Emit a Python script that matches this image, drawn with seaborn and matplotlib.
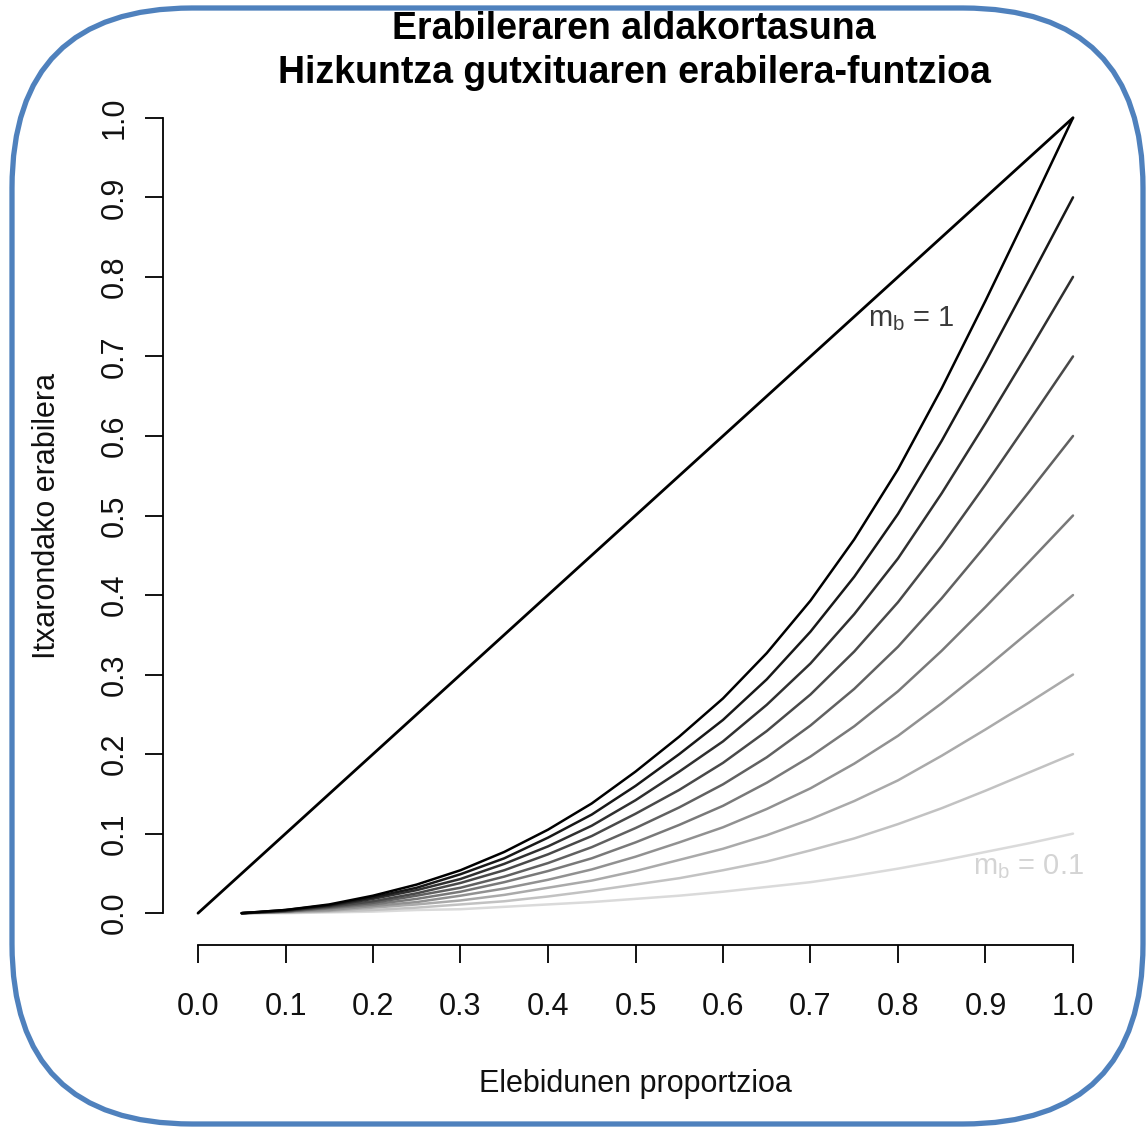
import matplotlib
matplotlib.use("Agg")
import matplotlib.pyplot as plt
from matplotlib.patches import FancyBboxPatch
import seaborn as sns
import pandas as pd

# ---------------- data ----------------
x_grid = [0.05, 0.10, 0.15, 0.20, 0.25, 0.30, 0.35, 0.40, 0.45, 0.50,
          0.55, 0.60, 0.65, 0.70, 0.75, 0.80, 0.85, 0.90, 0.95, 1.00]

mb_levels = [1.0, 0.9, 0.8, 0.7, 0.6, 0.5, 0.4, 0.3, 0.2, 0.1]

curve_10 = [0.000, 0.004, 0.011, 0.022, 0.036, 0.054, 0.077, 0.105, 0.138, 0.178,
            0.222, 0.270, 0.327, 0.393, 0.470, 0.558, 0.660, 0.770, 0.884, 1.000]
curve_09 = [0.000, 0.004, 0.010, 0.020, 0.032, 0.049, 0.069, 0.095, 0.124, 0.160,
            0.200, 0.243, 0.294, 0.354, 0.423, 0.502, 0.594, 0.693, 0.796, 0.900]
curve_08 = [0.000, 0.003, 0.009, 0.018, 0.029, 0.043, 0.062, 0.084, 0.110, 0.142,
            0.178, 0.216, 0.262, 0.314, 0.376, 0.446, 0.528, 0.616, 0.707, 0.800]
curve_07 = [0.000, 0.003, 0.008, 0.015, 0.025, 0.038, 0.054, 0.074, 0.097, 0.125,
            0.155, 0.189, 0.229, 0.275, 0.329, 0.391, 0.462, 0.539, 0.619, 0.700]
curve_06 = [0.000, 0.002, 0.007, 0.013, 0.022, 0.032, 0.046, 0.063, 0.083, 0.107,
            0.133, 0.162, 0.196, 0.236, 0.282, 0.335, 0.396, 0.462, 0.530, 0.600]
curve_05 = [0.000, 0.002, 0.006, 0.011, 0.018, 0.027, 0.039, 0.053, 0.069, 0.089,
            0.111, 0.135, 0.164, 0.197, 0.235, 0.279, 0.330, 0.385, 0.442, 0.500]
curve_04 = [0.000, 0.002, 0.004, 0.009, 0.014, 0.022, 0.031, 0.042, 0.055, 0.071,
            0.089, 0.108, 0.131, 0.157, 0.188, 0.223, 0.264, 0.308, 0.354, 0.400]
curve_03 = [0.000, 0.001, 0.003, 0.007, 0.011, 0.016, 0.023, 0.032, 0.041, 0.053,
            0.067, 0.081, 0.098, 0.118, 0.141, 0.167, 0.198, 0.231, 0.265, 0.300]
curve_02 = [0.000, 0.001, 0.002, 0.004, 0.007, 0.011, 0.015, 0.021, 0.028, 0.036,
            0.044, 0.054, 0.065, 0.079, 0.094, 0.112, 0.132, 0.154, 0.177, 0.200]
curve_01 = [0.000, 0.000, 0.001, 0.002, 0.004, 0.005, 0.008, 0.011, 0.014, 0.018,
            0.022, 0.027, 0.033, 0.039, 0.047, 0.056, 0.066, 0.077, 0.088, 0.100]

line_x = [0.0, 1.0]
line_y = [0.0, 1.0]

tick_vals = [0.0, 0.1, 0.2, 0.3, 0.4, 0.5, 0.6, 0.7, 0.8, 0.9, 1.0]
tick_labels = ["0.0", "0.1", "0.2", "0.3", "0.4", "0.5", "0.6", "0.7", "0.8", "0.9", "1.0"]

title_1 = "Erabileraren aldakortasuna"
title_2 = "Hizkuntza gutxituaren erabilera-funtzioa"
x_label = "Elebidunen proportzioa"
y_label = "Itxarondako erabilera"

# ---------------- build table ----------------
curves = [curve_10, curve_09, curve_08, curve_07, curve_06,
          curve_05, curve_04, curve_03, curve_02, curve_01]
rows = []
for mb, ys in zip(mb_levels, curves):
    for xv, yv in zip(x_grid, ys):
        rows.append({"x": xv, "y": yv, "mb": mb})
df = pd.DataFrame(rows)
df_line = pd.DataFrame({"x": line_x, "y": line_y})

def gray(mb):
    g = (1.0 - mb) * 0.95
    return (g, g, g)

palette = {mb: gray(mb) for mb in mb_levels}

# ---------------- plot ----------------
sns.set_theme(style="white")
plt.rcParams["font.family"] = ["Liberation Sans", "DejaVu Sans"]

fig = plt.figure(figsize=(11.47, 11.28), dpi=100)
ax = fig.add_axes([163 / 1147, 1 - 945 / 1128, (1108 - 163) / 1147, (945 - 86) / 1128])

sns.lineplot(data=df, x="x", y="y", hue="mb", palette=palette, legend=False,
             estimator=None, linewidth=1.8, ax=ax, hue_order=mb_levels[::-1])
sns.lineplot(data=df_line, x="x", y="y", color="black", linewidth=2.0,
             estimator=None, ax=ax)

ax.set_xlim(-0.04, 1.04)
ax.set_ylim(-0.04, 1.04)

for side in ["top", "right"]:
    ax.spines[side].set_visible(False)
ax.spines["left"].set_bounds(0, 1)
ax.spines["bottom"].set_bounds(0, 1)
for side in ["left", "bottom"]:
    ax.spines[side].set_color("black")
    ax.spines[side].set_linewidth(1.3)

ax.set_xticks(tick_vals)
ax.set_xticklabels(tick_labels)
ax.set_yticks(tick_vals)
ax.set_yticklabels(tick_labels, rotation=90, va="center")
ax.tick_params(axis="both", direction="out", length=13, width=1.3, color="black",
               labelsize=22, labelcolor="#111111", left=True, bottom=True)
ax.tick_params(axis="x", pad=21)
ax.tick_params(axis="y", pad=11)

ax.set_xlabel(x_label, fontsize=22, color="#111111", labelpad=34)
ax.set_ylabel(y_label, fontsize=22, color="#111111", labelpad=27)

ax.text(0.766, 0.748, r"$\mathregular{m_b}$ = 1", fontsize=21, color="#3a3a3a",
        ha="left", va="center")
ax.text(0.886, 0.059, r"$\mathregular{m_b}$ = 0.1", fontsize=21, color="#d4d4d4",
        ha="left", va="center")

fig.text(634 / 1147, 1 - 29 / 1128, title_1, fontsize=27, fontweight="bold",
         ha="center", va="center", color="black")
fig.text(634 / 1147, 1 - 73 / 1128, title_2, fontsize=27, fontweight="bold",
         ha="center", va="center", color="black")

border = FancyBboxPatch((0.12, 0.04), 11.31, 11.16,
                        boxstyle="round,pad=0,rounding_size=1.8",
                        transform=fig.dpi_scale_trans, fill=False,
                        edgecolor="#4f81bd", linewidth=3.8, clip_on=False)
fig.patches.append(border)

fig.savefig("out.png", dpi=100)
